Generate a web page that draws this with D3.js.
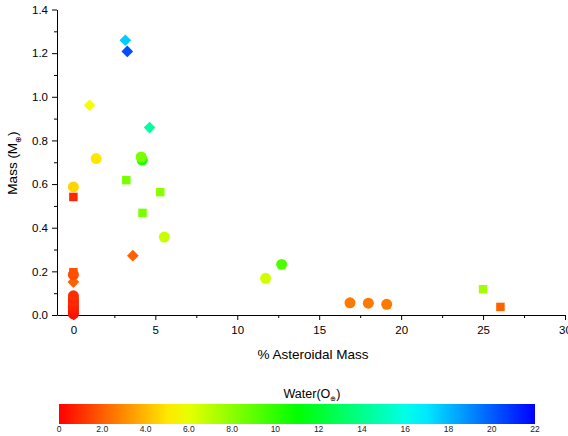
<!DOCTYPE html>
<html>
<head>
<meta charset="utf-8">
<script src="https://cdn.jsdelivr.net/npm/d3@7"></script>
<style>
  html, body { margin: 0; padding: 0; background: #fff; }
  svg { display: block; font-family: "Liberation Sans", Arial, sans-serif; }
</style>
</head>
<body>
<svg id="chart" width="568" height="436"></svg>
<script>
// ---- data ----
const asteroidPct = [0, 0, 0, 0, 0, 0, 0, 0, 0, 0, 0, 0, 0, 0,
  0.99, 1.39, 3.17, 3.29, 4.65, 4.2, 4.14, 3.23, 5.3, 4.22, 5.55, 3.63,
  11.73, 12.71, 16.88, 18.0, 19.12, 25.0, 26.06];
const mass = [0.005, 0.015, 0.025, 0.035, 0.045, 0.055, 0.065, 0.075, 0.088, 0.151, 0.185, 0.196, 0.541, 0.587,
  0.961, 0.717, 1.259, 1.208, 0.859, 0.71, 0.724, 0.618, 0.563, 0.468, 0.357, 0.272,
  0.168, 0.232, 0.056, 0.054, 0.049, 0.118, 0.037];
const water = [0.3, 0.4, 0.5, 0.6, 0.7, 0.8, 0.9, 0.8, 1.0, 2.1, 1.6, 1.7, 0.85, 4.6,
  5.7, 5.0, 17.6, 20.3, 14.4, 10.5, 8.4, 8.4, 8.0, 8.4, 6.7, 2.1,
  6.5, 9.3, 2.6, 2.6, 2.6, 7.5, 2.1];
const shape = ["circle", "circle", "circle", "circle", "circle", "circle", "circle", "circle", "circle", "diamond", "circle", "square", "square", "circle",
  "diamond", "circle", "diamond", "diamond", "diamond", "circle", "circle", "square", "square", "square", "circle", "diamond",
  "circle", "circle", "circle", "circle", "circle", "square", "square"];
const xTicks = [0, 5, 10, 15, 20, 25, 30];
const xMinorTicks = [2.5, 7.5, 12.5, 17.5, 22.5, 27.5];
const yTicks = [0.0, 0.2, 0.4, 0.6, 0.8, 1.0, 1.2, 1.4];
const yMinorTicks = [0.1, 0.3, 0.5, 0.7, 0.9, 1.1, 1.3];
const cbTicks = [0, 2, 4, 6, 8, 10, 12, 14, 16, 18, 20, 22];
const cbTickLabels = ["0", "2.0", "4.0", "6.0", "8.0", "10", "12", "14", "16", "18", "20", "22"];

// ---- setup ----
const svg = d3.select("#chart");
const x = d3.scaleLinear().domain([-1, 30]).range([57, 565]);
const y = d3.scaleLinear().domain([0, 1.4]).range([315, 9.5]);
const waterMax = 22;
const colorOf = w => d3.hsl(w / waterMax * 240, 1, 0.5).formatHex();

// axes
svg.append("g").attr("transform", "translate(0,315)")
  .call(d3.axisBottom(x).tickValues(xTicks).tickFormat(d3.format("d")).tickSize(5).tickSizeOuter(0).tickPadding(6));
svg.append("g").attr("transform", "translate(0,315)")
  .call(d3.axisBottom(x).tickValues(xMinorTicks).tickFormat("").tickSize(3).tickSizeOuter(0))
  .select(".domain").remove();
svg.append("g").attr("transform", "translate(57,0)")
  .call(d3.axisLeft(y).tickValues(yTicks).tickFormat(d3.format(".1f")).tickSize(5).tickSizeOuter(0).tickPadding(4));
svg.append("g").attr("transform", "translate(57,0)")
  .call(d3.axisLeft(y).tickValues(yMinorTicks).tickFormat("").tickSize(3).tickSizeOuter(0))
  .select(".domain").remove();
svg.selectAll(".tick text").attr("font-size", 11.5).attr("fill", "#000")
  .attr("font-family", "Liberation Sans, Arial, sans-serif");
svg.selectAll(".domain, .tick line").attr("stroke", "#000").attr("stroke-width", 1);

// axis titles
svg.append("text").attr("x", 313).attr("y", 359).attr("text-anchor", "middle")
  .attr("font-size", 13.5).text("% Asteroidal Mass");
const yl = svg.append("text").attr("transform", "translate(17,163) rotate(-90)")
  .attr("text-anchor", "middle").attr("font-size", 13.5);
yl.append("tspan").text("Mass (M");
yl.append("tspan").attr("font-size", 8).attr("dy", 4).text("⊕");
yl.append("tspan").attr("dy", -4).text(")");

// points
const data = asteroidPct.map((d, i) => ({ x: d, y: mass[i], w: water[i], s: shape[i] }));
const sym = {
  circle: d3.symbol().type(d3.symbolCircle).size(95),
  square: d3.symbol().type(d3.symbolSquare).size(72),
  diamond: d3.symbol().type(d3.symbolSquare).size(68)
};
svg.append("g").selectAll("path").data(data).join("path")
  .attr("d", d => sym[d.s]())
  .attr("transform", d => `translate(${x(d.x)},${y(d.y)})` + (d.s === "diamond" ? " rotate(45)" : ""))
  .attr("fill", d => colorOf(d.w));

// colour bar
const cb = d3.scaleLinear().domain([0, waterMax]).range([59, 535]);
const defs = svg.append("defs");
const grad = defs.append("linearGradient").attr("id", "rainbow")
  .attr("x1", "0%").attr("x2", "100%").attr("y1", "0%").attr("y2", "0%");
d3.range(0, 23, 1).forEach(v => {
  grad.append("stop").attr("offset", (v / waterMax * 100) + "%").attr("stop-color", colorOf(v));
});
svg.append("rect").attr("x", cb(0)).attr("y", 404).attr("width", cb(waterMax) - cb(0)).attr("height", 20)
  .attr("fill", "url(#rainbow)");
svg.append("g").selectAll("text").data(cbTicks).join("text")
  .attr("x", d => cb(d)).attr("y", 432).attr("text-anchor", "middle")
  .attr("font-size", 8.5).attr("fill", "#222")
  .text((d, i) => cbTickLabels[i]);
const wt = svg.append("text").attr("x", 312).attr("y", 398).attr("text-anchor", "middle").attr("font-size", 12.5);
wt.append("tspan").text("Water(O");
wt.append("tspan").attr("font-size", 7).attr("dy", 3).text("⊕");
wt.append("tspan").attr("dy", -3).text(")");
</script>
</body>
</html>
